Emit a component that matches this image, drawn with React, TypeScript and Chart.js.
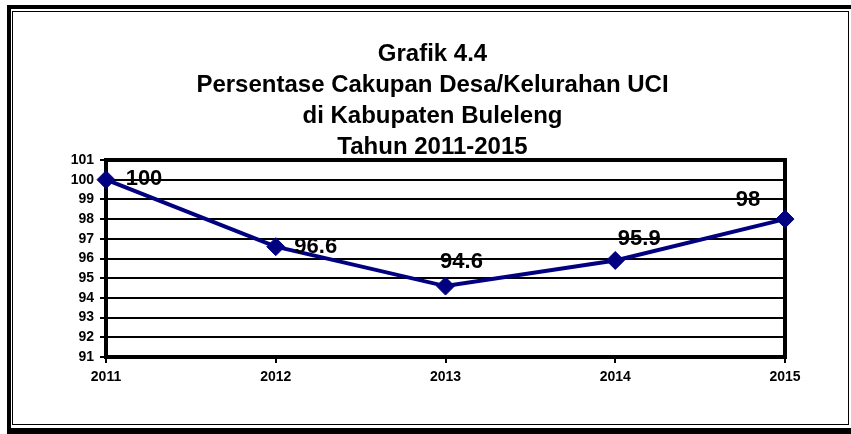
import React, { useEffect, useRef } from "react";
import { Chart, registerables } from "chart.js";

Chart.register(...registerables);

const years: string[] = ["2011", "2012", "2013", "2014", "2015"];
const coverage: number[] = [100, 96.6, 94.6, 95.9, 98];
const yMin = 91;
const yMax = 101;
const yStep = 1;
const titleLines: string[] = [
  "Grafik 4.4",
  "Persentase Cakupan Desa/Kelurahan UCI",
  "di Kabupaten Buleleng",
  "Tahun 2011-2015",
];

const FONT = "Arial, 'Liberation Sans', Helvetica, sans-serif";

const titlePlugin = {
  id: "customTitle",
  afterDraw(chart: any, _args: any, opts: any) {
    const { ctx } = chart;
    ctx.save();
    ctx.fillStyle = "#000";
    ctx.font = `bold ${opts.size}px ${FONT}`;
    ctx.textAlign = "center";
    ctx.textBaseline = "alphabetic";
    const cx = chart.width / 2 + opts.dx;
    opts.lines.forEach((line: string, i: number) => {
      ctx.fillText(line, cx, opts.firstBaseline + i * opts.lineGap);
    });
    ctx.restore();
  },
};

const framePlugin = {
  id: "plotFrame",
  beforeDatasetsDraw(chart: any) {
    const { ctx, chartArea } = chart;
    const { left, top, right, bottom } = chartArea;
    ctx.save();
    ctx.strokeStyle = "#000";
    ctx.lineWidth = 4;
    ctx.strokeRect(left, top, right - left, bottom - top);
    ctx.restore();
  },
};

const valueLabelPlugin = {
  id: "valueLabels",
  afterDatasetsDraw(chart: any, _args: any, opts: any) {
    const { ctx } = chart;
    const meta = chart.getDatasetMeta(0);
    const values = chart.data.datasets[0].data as number[];
    ctx.save();
    ctx.fillStyle = "#000";
    ctx.font = `bold ${opts.size}px ${FONT}`;
    ctx.textAlign = "center";
    ctx.textBaseline = "middle";
    meta.data.forEach((pt: any, i: number) => {
      const off = opts.offsets[i] || [0, 0];
      ctx.fillText(String(values[i]), pt.x + off[0], pt.y + off[1]);
    });
    ctx.restore();
  },
};

export default function App() {
  const canvasRef = useRef<HTMLCanvasElement | null>(null);

  useEffect(() => {
    if (!canvasRef.current) return;
    const chart = new Chart(canvasRef.current, {
      type: "line",
      data: {
        labels: years,
        datasets: [
          {
            data: coverage,
            borderColor: "#000080",
            backgroundColor: "#000080",
            borderWidth: 4,
            pointStyle: "rectRot",
            pointRadius: 9,
            pointBorderWidth: 1,
            pointBackgroundColor: "#000080",
            pointBorderColor: "#000080",
            tension: 0,
            fill: false,
          },
        ],
      },
      plugins: [titlePlugin, framePlugin, valueLabelPlugin],
      options: {
        responsive: false,
        animation: false,
        devicePixelRatio: 1,
        layout: { padding: { left: 0, top: 148, right: 63, bottom: 27 } },
        plugins: {
          legend: { display: false },
          tooltip: { enabled: false },
          title: { display: false },
          customTitle: {
            lines: titleLines,
            size: 24,
            firstBaseline: 49,
            lineGap: 31,
            dx: 2,
          },
          valueLabels: {
            size: 22,
            offsets: [
              [38, -1],
              [40, 0],
              [16, -24],
              [24, -22],
              [-37, -19],
            ],
          },
        } as any,
        scales: {
          x: {
            type: "category",
            offset: false,
            afterFit(scale: any) {
              scale.height = 40;
            },
            grid: {
              display: true,
              drawOnChartArea: false,
              drawTicks: true,
              tickLength: 6,
              color: "#000",
              lineWidth: 2,
            },
            border: { display: false },
            ticks: {
              color: "#000",
              padding: 6,
              maxRotation: 0,
              autoSkip: false,
              font: { family: FONT, size: 14, weight: "bold" },
            },
          },
          y: {
            min: yMin,
            max: yMax,
            afterFit(scale: any) {
              scale.width = 93;
            },
            grid: {
              display: true,
              drawOnChartArea: true,
              drawTicks: true,
              tickLength: 6,
              color: "#000",
              lineWidth: 2,
            },
            border: { display: false },
            ticks: {
              stepSize: yStep,
              autoSkip: false,
              color: "#000",
              padding: 6,
              font: { family: FONT, size: 14, weight: "bold" },
            },
          },
        },
      },
    });
    return () => chart.destroy();
  }, []);

  return (
    <div
      style={{
        position: "fixed",
        left: 0,
        top: 0,
        width: 851,
        height: 434,
        overflow: "hidden",
        background: "#fff",
      }}
    >
      <div
        style={{
          position: "absolute",
          left: 7,
          top: 5,
          width: 860,
          height: 429,
          boxSizing: "border-box",
          borderTop: "4px solid #000",
          borderLeft: "4px solid #000",
          borderBottom: "6px solid #000",
        }}
      />
      <div
        style={{
          position: "absolute",
          left: 12,
          top: 11,
          width: 837,
          height: 414,
          boxSizing: "border-box",
          border: "1px solid #000",
        }}
      />
      <canvas
        ref={canvasRef}
        width={835}
        height={412}
        style={{
          position: "absolute",
          left: 13,
          top: 12,
          width: 835,
          height: 412,
        }}
      />
    </div>
  );
}
